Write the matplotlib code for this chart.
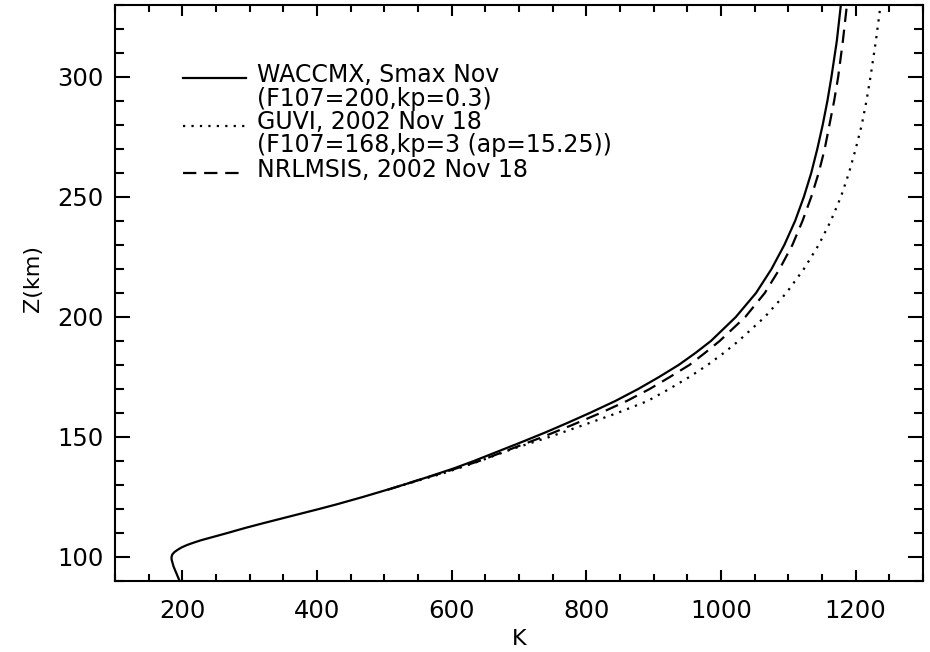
import numpy as np
import matplotlib.pyplot as plt
from matplotlib.ticker import MultipleLocator

# WACCMX, Smax Nov (solid)
z_waccmx = [90, 92, 94, 96, 98, 99, 100, 101, 102, 103, 104, 105, 106, 107, 108, 109,
            110, 112, 114, 116, 118, 120, 122, 125, 128, 131, 134, 137, 140, 144, 148,
            152, 156, 160, 165, 170, 175, 180, 185, 190, 200, 210, 220, 230, 240, 250,
            260, 270, 280, 290, 300, 315, 330]
t_waccmx = [196, 193, 190, 187, 185, 184, 184, 185, 188, 193, 199, 207, 217, 228, 241, 254,
            267, 292, 319, 347, 375, 403, 430, 468, 504, 539, 572, 604, 633, 669, 705,
            740, 773, 805, 843, 877, 908, 937, 962, 985, 1022, 1052, 1075, 1094, 1110, 1123,
            1134, 1143, 1151, 1158, 1164, 1172, 1178]

# GUVI, 2002 Nov 18 (dotted)
z_guvi = [130, 135, 140, 145, 150, 155, 160, 165, 170, 175, 180, 185, 190, 200, 210,
          220, 230, 240, 250, 260, 270, 280, 290, 300, 315, 330]
t_guvi = [528, 589, 642, 690, 745, 796, 846, 891, 923, 953, 980, 1004, 1026, 1065, 1097,
          1123, 1145, 1163, 1178, 1190, 1200, 1209, 1216, 1222, 1230, 1237]

# NRLMSIS, 2002 Nov 18 (dashed)
z_msis = [128, 132, 136, 140, 145, 150, 155, 160, 165, 170, 175, 180, 185, 190, 200,
          210, 220, 230, 240, 250, 260, 270, 280, 290, 300, 315, 330]
t_msis = [505, 550, 597, 641, 688, 735, 779, 821, 860, 894, 924, 953, 976, 998, 1036,
          1065, 1087, 1106, 1121, 1134, 1145, 1154, 1161, 1168, 1174, 1181, 1187]

fig = plt.figure(figsize=(9.3, 6.52), dpi=100)
ax = fig.add_axes([115 / 930, 1 - 581 / 652, 808 / 930, 576 / 652])

ax.plot(t_waccmx, z_waccmx, color='black', lw=1.6)
ax.plot(t_guvi, z_guvi, color='black', lw=1.6, linestyle=(0, (1, 2.8)))
ax.plot(t_msis, z_msis, color='black', lw=1.6, linestyle=(0, (6, 3.5)))

ax.set_xlim(100, 1300)
ax.set_ylim(90, 330)
ax.xaxis.set_major_locator(MultipleLocator(200))
ax.xaxis.set_minor_locator(MultipleLocator(50))
ax.yaxis.set_major_locator(MultipleLocator(50))
ax.yaxis.set_minor_locator(MultipleLocator(10))

for s in ax.spines.values():
    s.set_linewidth(1.5)
ax.tick_params(axis='both', which='both', direction='in', top=True, right=True,
               width=1.5, labelsize=17.5)
ax.tick_params(axis='x', which='major', length=8, pad=13)
ax.tick_params(axis='x', which='minor', length=5)
ax.tick_params(axis='y', which='major', length=11, pad=8)
ax.tick_params(axis='y', which='minor', length=6.5)

ax.set_xlabel('K', fontsize=16)
ax.set_ylabel('Z(km)', fontsize=16)
ax.xaxis.set_label_coords(0.5, -0.083)
ax.yaxis.set_label_coords(-0.089, 0.526)

# legend drawn by hand, IDL style
def ay(py):
    return (581 - py) / 576

hx = [(183 - 115) / 808, (246 - 115) / 808]
tx = (257 - 115) / 808
ax.plot(hx, [ay(78)] * 2, transform=ax.transAxes, color='black', lw=1.6)
ax.plot(hx, [ay(126)] * 2, transform=ax.transAxes, color='black', lw=1.6,
        linestyle=(0, (1, 2.8)))
ax.plot(hx, [ay(173)] * 2, transform=ax.transAxes, color='black', lw=1.6,
        linestyle=(0, (6, 3.5)))

rows = ['WACCMX, Smax Nov', '(F107=200,kp=0.3)', 'GUVI, 2002 Nov 18',
        '(F107=168,kp=3 (ap=15.25))', 'NRLMSIS, 2002 Nov 18']
row_y = [75, 99, 122, 145, 170]
for txt, py in zip(rows, row_y):
    ax.text(tx, ay(py), txt, transform=ax.transAxes, fontsize=17,
            va='center', ha='left')

fig.savefig('out.png', dpi=100)
